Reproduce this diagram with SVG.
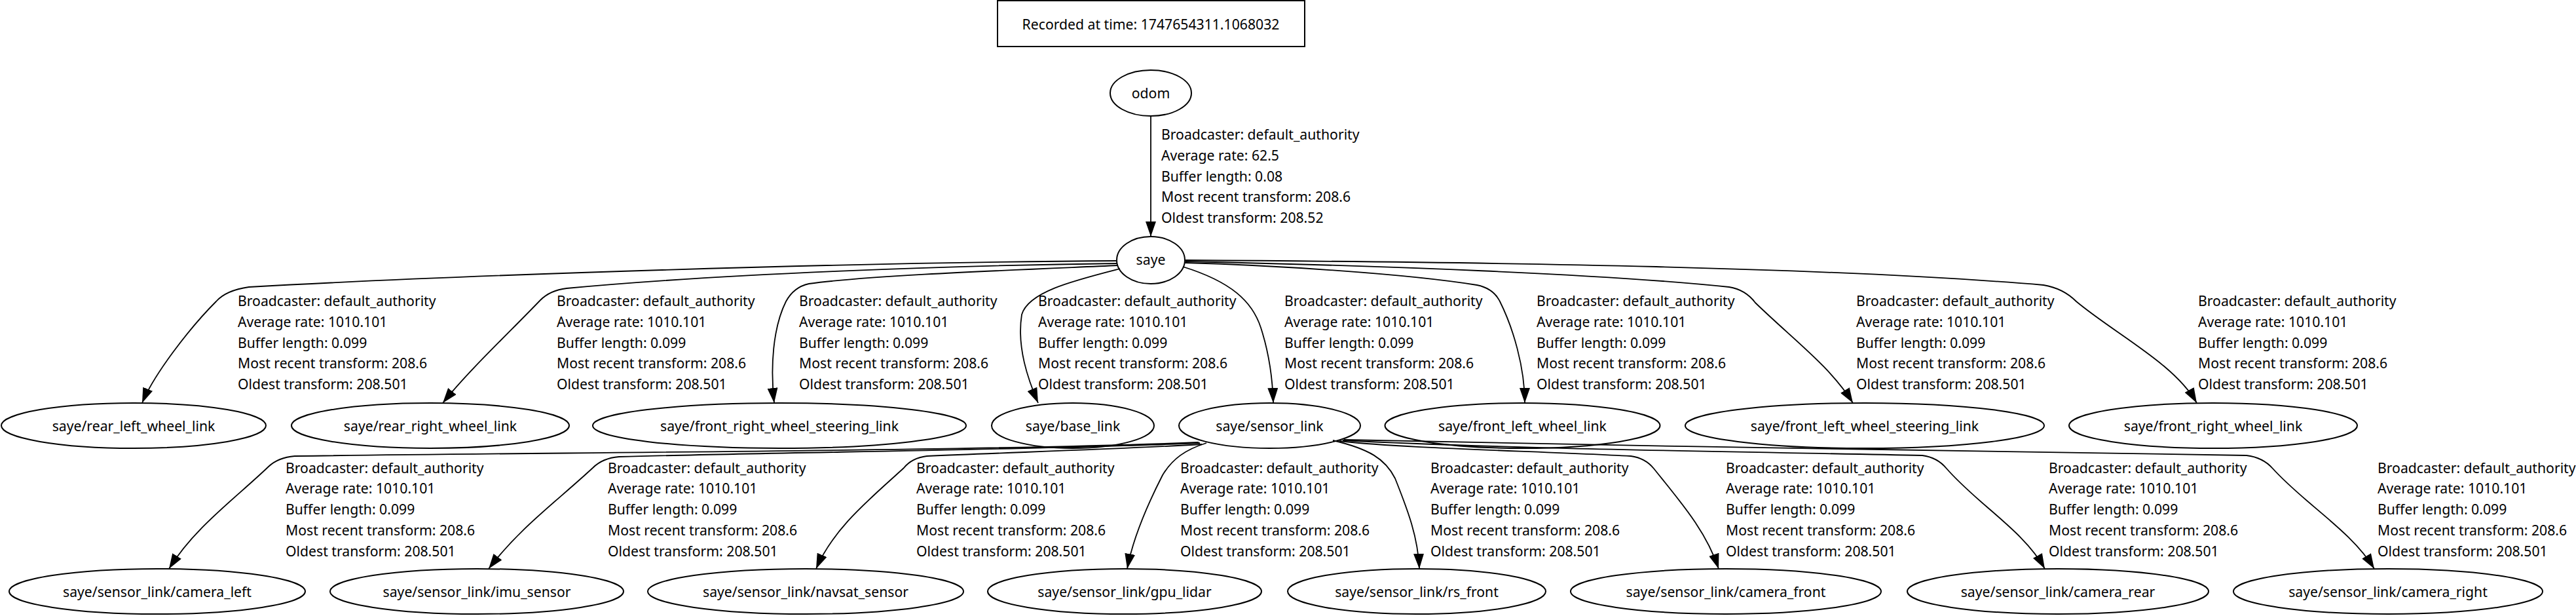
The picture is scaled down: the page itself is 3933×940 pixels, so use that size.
<svg xmlns="http://www.w3.org/2000/svg" width="3933" height="940" viewBox="0 0 3933 940">
<style>
text{font-family:"Noto Sans","Open Sans","DejaVu Sans",sans-serif;font-size:21.2px;fill:#000}
.n{text-anchor:middle}
ellipse,rect{fill:none;stroke:#000;stroke-width:2}
.e path{fill:none;stroke:#000;stroke-width:1.8;marker-end:url(#arr)}
</style>
<defs>
<marker id="arr" markerUnits="userSpaceOnUse" viewBox="0 0 23 16" markerWidth="23" markerHeight="16" refX="23" refY="8" orient="auto"><path d="M0,0 L23,8 L0,16 z" fill="#000"/></marker>
</defs>
<rect fill="#fff" stroke="none" x="0" y="0" width="3933" height="940" style="stroke:none;fill:#fff"/>
<g id="title"><rect x="1523" y="1" width="469" height="70"/><text class="n" x="1757" y="45">Recorded at time: 1747654311.1068032</text></g>

<g id="odom"><ellipse cx="1757" cy="142" rx="62" ry="35"/><text class="n" x="1757" y="150">odom</text></g>
<g id="saye"><ellipse cx="1757" cy="397" rx="52" ry="36"/><text class="n" x="1757" y="404">saye</text></g>

<g id="rear_left_wheel_link"><ellipse cx="204" cy="649.5" rx="202" ry="34.5"/><text class="n" x="204" y="658">saye/rear_left_wheel_link</text></g>
<g id="rear_right_wheel_link"><ellipse cx="657" cy="649.5" rx="212" ry="34.5"/><text class="n" x="657" y="658">saye/rear_right_wheel_link</text></g>
<g id="front_right_wheel_steering_link"><ellipse cx="1190" cy="649.5" rx="285" ry="34.5"/><text class="n" x="1190" y="658">saye/front_right_wheel_steering_link</text></g>
<g id="base_link"><ellipse cx="1638" cy="649.5" rx="124" ry="34.5"/><text class="n" x="1638" y="658">saye/base_link</text></g>
<g id="sensor_link"><ellipse cx="1938.5" cy="649.5" rx="138.5" ry="34.5"/><text class="n" x="1938.5" y="658">saye/sensor_link</text></g>
<g id="front_left_wheel_link"><ellipse cx="2324.5" cy="649.5" rx="210" ry="34.5"/><text class="n" x="2324.5" y="658">saye/front_left_wheel_link</text></g>
<g id="front_left_wheel_steering_link"><ellipse cx="2847" cy="649.5" rx="274" ry="34.5"/><text class="n" x="2847" y="658">saye/front_left_wheel_steering_link</text></g>
<g id="front_right_wheel_link"><ellipse cx="3379" cy="649.5" rx="220" ry="34.5"/><text class="n" x="3379" y="658">saye/front_right_wheel_link</text></g>

<g id="camera_left"><ellipse cx="240" cy="902.5" rx="226" ry="34.5"/><text class="n" x="240" y="911">saye/sensor_link/camera_left</text></g>
<g id="imu_sensor"><ellipse cx="728" cy="902.5" rx="224" ry="34.5"/><text class="n" x="728" y="911">saye/sensor_link/imu_sensor</text></g>
<g id="navsat_sensor"><ellipse cx="1230" cy="902.5" rx="241" ry="34.5"/><text class="n" x="1230" y="911">saye/sensor_link/navsat_sensor</text></g>
<g id="gpu_lidar"><ellipse cx="1717" cy="902.5" rx="209" ry="34.5"/><text class="n" x="1717" y="911">saye/sensor_link/gpu_lidar</text></g>
<g id="rs_front"><ellipse cx="2163" cy="902.5" rx="197" ry="34.5"/><text class="n" x="2163" y="911">saye/sensor_link/rs_front</text></g>
<g id="camera_front"><ellipse cx="2635" cy="902.5" rx="237" ry="34.5"/><text class="n" x="2635" y="911">saye/sensor_link/camera_front</text></g>
<g id="camera_rear"><ellipse cx="3142" cy="902.5" rx="230" ry="34.5"/><text class="n" x="3142" y="911">saye/sensor_link/camera_rear</text></g>
<g id="camera_right"><ellipse cx="3646" cy="902.5" rx="236" ry="34.5"/><text class="n" x="3646" y="911">saye/sensor_link/camera_right</text></g>

<g id="connectors" class="e">
<path d="M1757,177 L1757,361"/>
<path d="M1706,398 C1300,400 700,420 380,438 Q345,443 330,460 C290,500 235,571 217,615"/>
<path d="M1706,402 C1450,405 1100,418 865,440 Q840,443 825,458 C780,505 716,565 676,615"/>
<path d="M1707,405 C1550,412 1330,420 1235,433 Q1212,438 1200,460 C1180,500 1176,560 1182,615"/>
<path d="M1710,410 C1640,428 1570,445 1560,480 C1552,530 1570,580 1585,615"/>
<path d="M1806,407 C1880,430 1912,460 1925,500 C1938,540 1943,580 1944,615"/>
<path d="M1809,401 C1950,405 2150,418 2255,435 Q2280,440 2290,460 C2310,500 2328,560 2328,615"/>
<path d="M1810,399 C2100,405 2450,418 2640,438 Q2665,442 2680,462 C2740,520 2795,560 2829,615"/>
<path d="M1810,397 C2300,400 2800,408 3120,435 Q3150,440 3170,460 C3230,510 3320,555 3354,615"/>

<path d="M1830,675 C1500,688 900,690 450,696 Q425,698 410,712 C360,760 297,805 258,868"/>
<path d="M1832,676 C1600,686 1200,690 945,697 Q920,699 905,714 C850,765 794,805 746,868"/>
<path d="M1835,678 C1700,686 1550,690 1415,696 Q1392,699 1380,714 C1330,760 1273,805 1246,868"/>
<path d="M1842,676 C1810,686 1790,700 1775,725 C1752,770 1730,820 1721,868"/>
<path d="M2035,672 C2090,685 2115,700 2130,730 C2150,780 2165,820 2167,868"/>
<path d="M2045,673 C2150,685 2350,688 2490,696 Q2512,699 2525,715 C2565,765 2605,810 2624,868"/>
<path d="M2050,672 C2300,685 2700,690 2935,695 Q2958,698 2972,715 C3020,770 3090,810 3122,868"/>
<path d="M2052,671 C2500,682 3100,688 3430,695 Q3455,698 3470,715 C3520,770 3590,810 3625,868"/>
</g>

<g id="labels">
<text x="1773" y="213.3"><tspan x="1773">Broadcaster: default_authority</tspan><tspan x="1773" dy="31.7">Average rate: 62.5</tspan><tspan x="1773" dy="31.7">Buffer length: 0.08</tspan><tspan x="1773" dy="31.7">Most recent transform: 208.6</tspan><tspan x="1773" dy="31.7">Oldest transform: 208.52</tspan></text>

<text x="363" y="467.3"><tspan x="363">Broadcaster: default_authority</tspan><tspan x="363" dy="31.7">Average rate: 1010.101</tspan><tspan x="363" dy="31.7">Buffer length: 0.099</tspan><tspan x="363" dy="31.7">Most recent transform: 208.6</tspan><tspan x="363" dy="31.7">Oldest transform: 208.501</tspan></text>
<text x="850" y="467.3"><tspan x="850">Broadcaster: default_authority</tspan><tspan x="850" dy="31.7">Average rate: 1010.101</tspan><tspan x="850" dy="31.7">Buffer length: 0.099</tspan><tspan x="850" dy="31.7">Most recent transform: 208.6</tspan><tspan x="850" dy="31.7">Oldest transform: 208.501</tspan></text>
<text x="1220" y="467.3"><tspan x="1220">Broadcaster: default_authority</tspan><tspan x="1220" dy="31.7">Average rate: 1010.101</tspan><tspan x="1220" dy="31.7">Buffer length: 0.099</tspan><tspan x="1220" dy="31.7">Most recent transform: 208.6</tspan><tspan x="1220" dy="31.7">Oldest transform: 208.501</tspan></text>
<text x="1585" y="467.3"><tspan x="1585">Broadcaster: default_authority</tspan><tspan x="1585" dy="31.7">Average rate: 1010.101</tspan><tspan x="1585" dy="31.7">Buffer length: 0.099</tspan><tspan x="1585" dy="31.7">Most recent transform: 208.6</tspan><tspan x="1585" dy="31.7">Oldest transform: 208.501</tspan></text>
<text x="1961" y="467.3"><tspan x="1961">Broadcaster: default_authority</tspan><tspan x="1961" dy="31.7">Average rate: 1010.101</tspan><tspan x="1961" dy="31.7">Buffer length: 0.099</tspan><tspan x="1961" dy="31.7">Most recent transform: 208.6</tspan><tspan x="1961" dy="31.7">Oldest transform: 208.501</tspan></text>
<text x="2346" y="467.3"><tspan x="2346">Broadcaster: default_authority</tspan><tspan x="2346" dy="31.7">Average rate: 1010.101</tspan><tspan x="2346" dy="31.7">Buffer length: 0.099</tspan><tspan x="2346" dy="31.7">Most recent transform: 208.6</tspan><tspan x="2346" dy="31.7">Oldest transform: 208.501</tspan></text>
<text x="2834" y="467.3"><tspan x="2834">Broadcaster: default_authority</tspan><tspan x="2834" dy="31.7">Average rate: 1010.101</tspan><tspan x="2834" dy="31.7">Buffer length: 0.099</tspan><tspan x="2834" dy="31.7">Most recent transform: 208.6</tspan><tspan x="2834" dy="31.7">Oldest transform: 208.501</tspan></text>
<text x="3356" y="467.3"><tspan x="3356">Broadcaster: default_authority</tspan><tspan x="3356" dy="31.7">Average rate: 1010.101</tspan><tspan x="3356" dy="31.7">Buffer length: 0.099</tspan><tspan x="3356" dy="31.7">Most recent transform: 208.6</tspan><tspan x="3356" dy="31.7">Oldest transform: 208.501</tspan></text>

<text x="436" y="721.7"><tspan x="436">Broadcaster: default_authority</tspan><tspan x="436" dy="31.7">Average rate: 1010.101</tspan><tspan x="436" dy="31.7">Buffer length: 0.099</tspan><tspan x="436" dy="31.7">Most recent transform: 208.6</tspan><tspan x="436" dy="31.7">Oldest transform: 208.501</tspan></text>
<text x="928" y="721.7"><tspan x="928">Broadcaster: default_authority</tspan><tspan x="928" dy="31.7">Average rate: 1010.101</tspan><tspan x="928" dy="31.7">Buffer length: 0.099</tspan><tspan x="928" dy="31.7">Most recent transform: 208.6</tspan><tspan x="928" dy="31.7">Oldest transform: 208.501</tspan></text>
<text x="1399" y="721.7"><tspan x="1399">Broadcaster: default_authority</tspan><tspan x="1399" dy="31.7">Average rate: 1010.101</tspan><tspan x="1399" dy="31.7">Buffer length: 0.099</tspan><tspan x="1399" dy="31.7">Most recent transform: 208.6</tspan><tspan x="1399" dy="31.7">Oldest transform: 208.501</tspan></text>
<text x="1802" y="721.7"><tspan x="1802">Broadcaster: default_authority</tspan><tspan x="1802" dy="31.7">Average rate: 1010.101</tspan><tspan x="1802" dy="31.7">Buffer length: 0.099</tspan><tspan x="1802" dy="31.7">Most recent transform: 208.6</tspan><tspan x="1802" dy="31.7">Oldest transform: 208.501</tspan></text>
<text x="2184" y="721.7"><tspan x="2184">Broadcaster: default_authority</tspan><tspan x="2184" dy="31.7">Average rate: 1010.101</tspan><tspan x="2184" dy="31.7">Buffer length: 0.099</tspan><tspan x="2184" dy="31.7">Most recent transform: 208.6</tspan><tspan x="2184" dy="31.7">Oldest transform: 208.501</tspan></text>
<text x="2635" y="721.7"><tspan x="2635">Broadcaster: default_authority</tspan><tspan x="2635" dy="31.7">Average rate: 1010.101</tspan><tspan x="2635" dy="31.7">Buffer length: 0.099</tspan><tspan x="2635" dy="31.7">Most recent transform: 208.6</tspan><tspan x="2635" dy="31.7">Oldest transform: 208.501</tspan></text>
<text x="3128" y="721.7"><tspan x="3128">Broadcaster: default_authority</tspan><tspan x="3128" dy="31.7">Average rate: 1010.101</tspan><tspan x="3128" dy="31.7">Buffer length: 0.099</tspan><tspan x="3128" dy="31.7">Most recent transform: 208.6</tspan><tspan x="3128" dy="31.7">Oldest transform: 208.501</tspan></text>
<text x="3630" y="721.7"><tspan x="3630">Broadcaster: default_authority</tspan><tspan x="3630" dy="31.7">Average rate: 1010.101</tspan><tspan x="3630" dy="31.7">Buffer length: 0.099</tspan><tspan x="3630" dy="31.7">Most recent transform: 208.6</tspan><tspan x="3630" dy="31.7">Oldest transform: 208.501</tspan></text>
</g>
</svg>
